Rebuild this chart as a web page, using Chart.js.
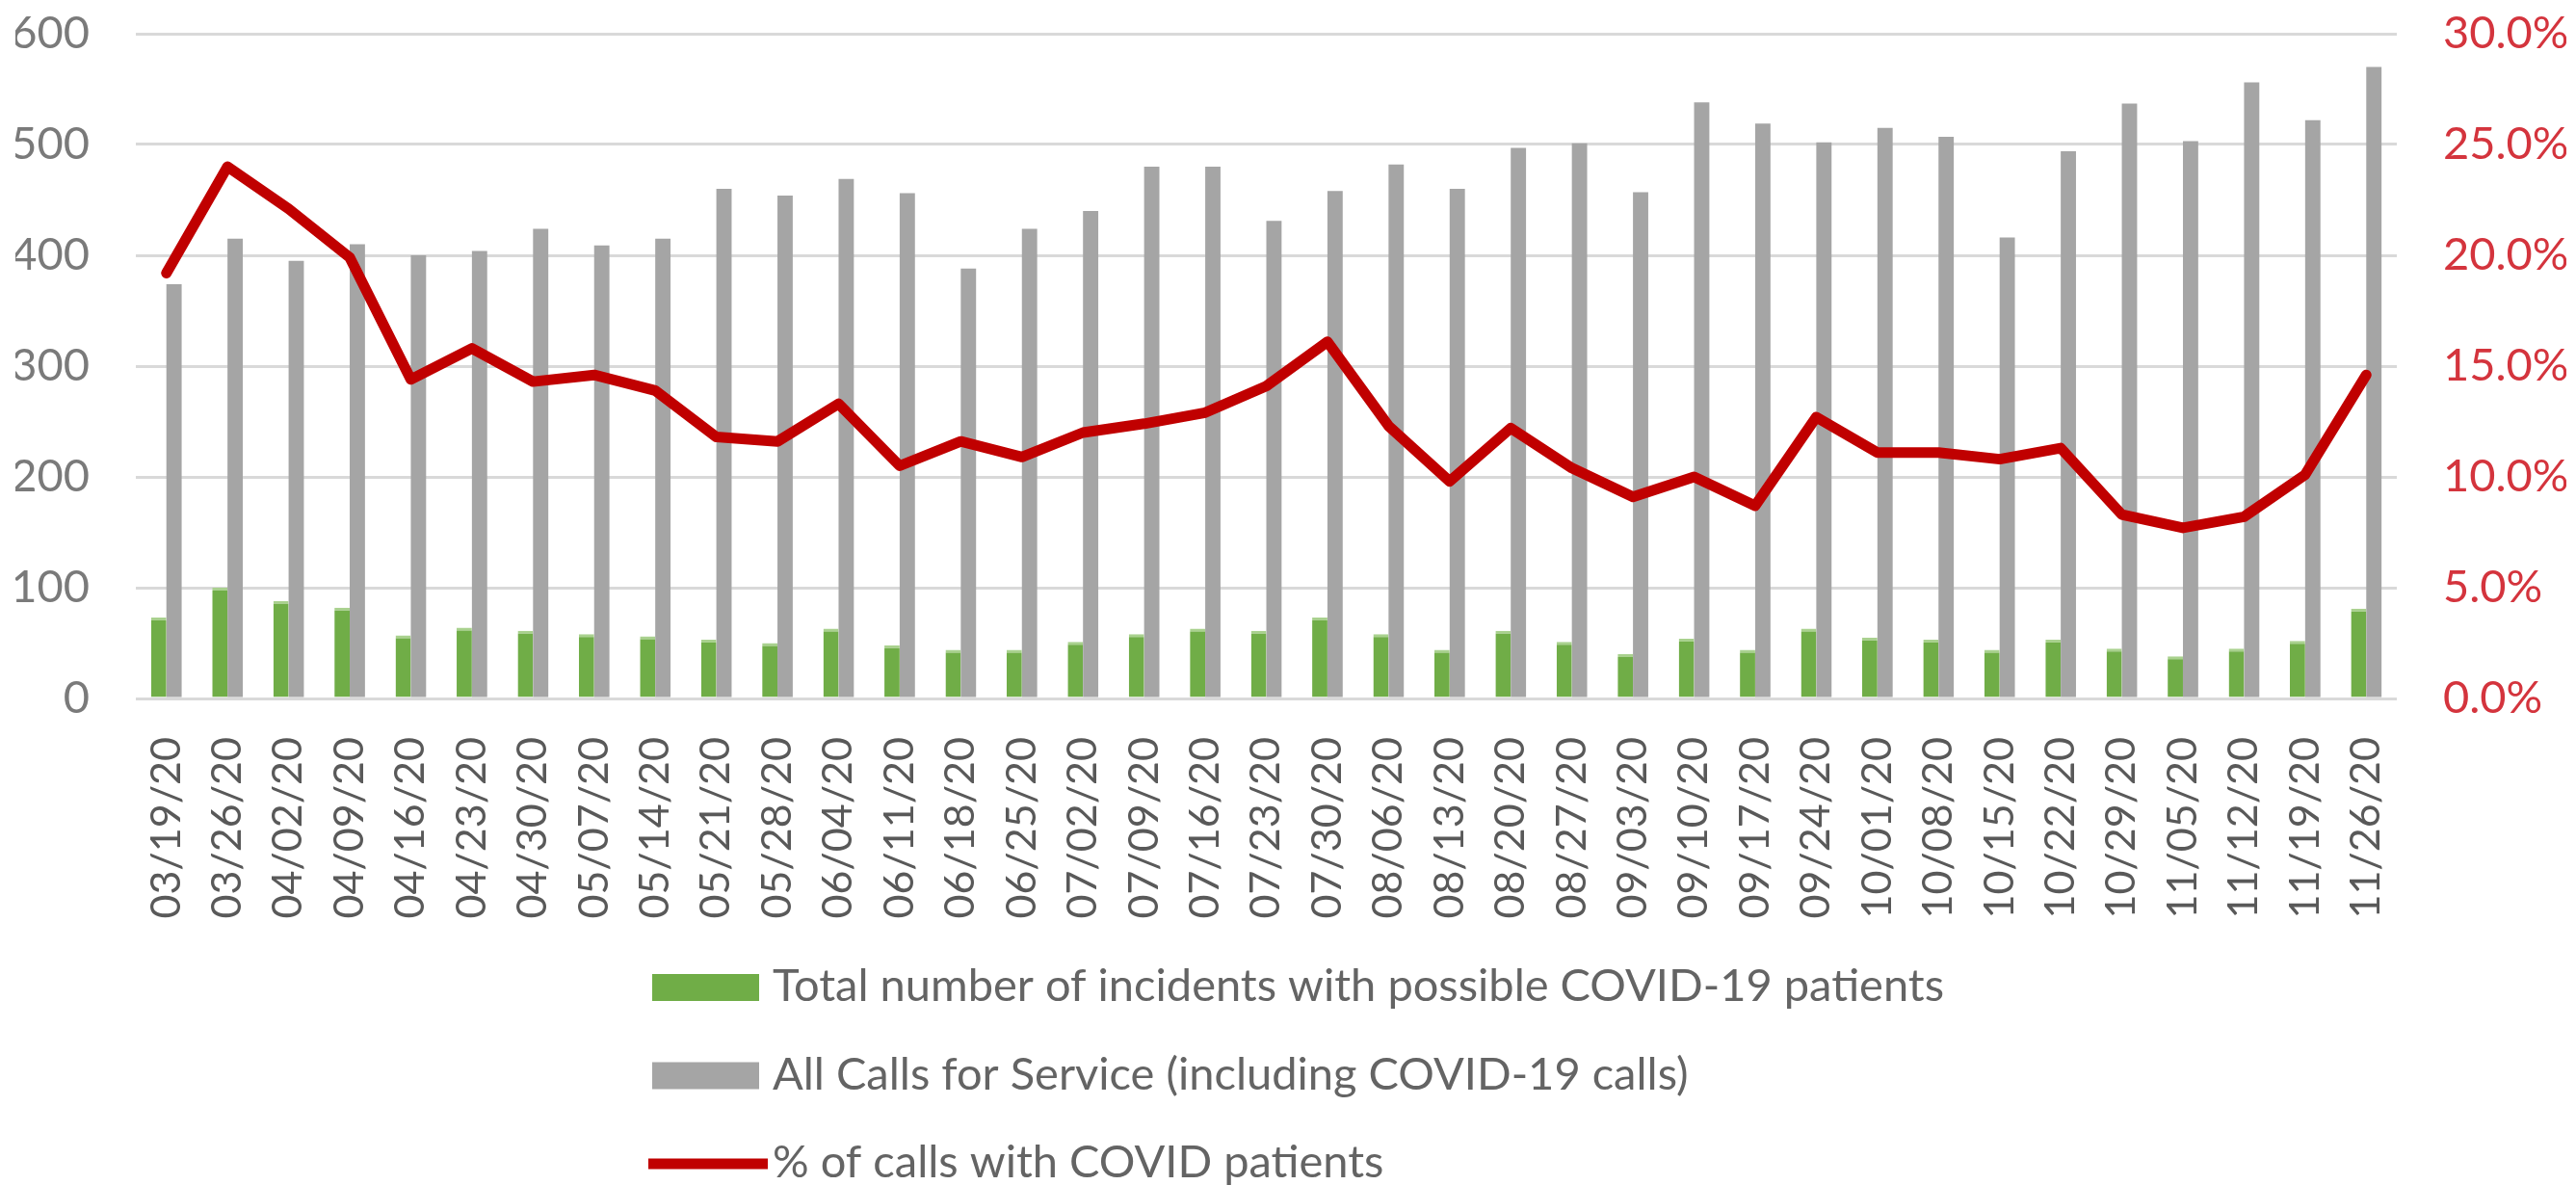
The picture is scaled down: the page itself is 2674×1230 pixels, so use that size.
<!DOCTYPE html>
<html>
<head>
<meta charset="utf-8">
<script src="https://cdn.jsdelivr.net/npm/chart.js@4.4.1/dist/chart.umd.min.js"></script>
<style>
  html, body { margin: 0; padding: 0; background: #ffffff; }
  #wrap { width: 2674px; height: 1230px; position: relative; }
</style>
</head>
<body>
<div id="wrap"><canvas id="myChart"></canvas></div>
<script>
// weekly dates on the x axis
const weeks = ['03/19/20', '03/26/20', '04/02/20', '04/09/20', '04/16/20', '04/23/20', '04/30/20',
  '05/07/20', '05/14/20', '05/21/20', '05/28/20', '06/04/20', '06/11/20', '06/18/20', '06/25/20',
  '07/02/20', '07/09/20', '07/16/20', '07/23/20', '07/30/20', '08/06/20', '08/13/20', '08/20/20',
  '08/27/20', '09/03/20', '09/10/20', '09/17/20', '09/24/20', '10/01/20', '10/08/20', '10/15/20',
  '10/22/20', '10/29/20', '11/05/20', '11/12/20', '11/19/20', '11/26/20']

const covidIncidents = [73, 100, 88, 82, 57, 64, 61, 58, 56, 53, 50, 63, 48, 44, 44, 51, 58, 63, 61,
  73, 58, 44, 61, 51, 40, 54, 44, 63, 55, 53, 44, 53, 45, 38, 45, 52, 81]

const allCalls = [374, 415, 395, 410, 400, 404, 424, 409, 415, 460, 454, 469, 456, 388, 424, 440, 480,
  480, 431, 458, 482, 460, 497, 501, 457, 538, 519, 502, 515, 507, 416, 494, 537, 503, 556, 522, 570]

const pctCovid = [19.2, 24.0, 22.1, 19.9, 14.4, 15.8, 14.3, 14.6, 13.9, 11.8, 11.6, 13.3, 10.5, 11.6,
  10.9, 12.0, 12.4, 12.9, 14.1, 16.1, 12.3, 9.8, 12.2, 10.4, 9.1, 10.0, 8.7, 12.7, 11.1, 11.1, 10.8,
  11.3, 8.3, 7.7, 8.2, 10.1, 14.6]

const countTicks = [0, 100, 200, 300, 400, 500, 600]
const pctTicks = [0, 5, 10, 15, 20, 25, 30]

const labelFont = { family: 'Lato', size: 47 }

// legend stacked in rows under the axis, like the Excel one
const rowLegend = {
  id: 'rowLegend',
  afterDraw: (chart, args, opts) => {
    const { ctx } = chart
    ctx.save()
    ctx.font = '47px Lato'
    ctx.textBaseline = 'alphabetic'
    chart.data.datasets.forEach((ds, i) => {
      const y = opts.top + i * opts.gap
      if (ds.type === 'line') {
        ctx.strokeStyle = ds.borderColor
        ctx.lineWidth = 11
        ctx.beginPath()
        ctx.moveTo(opts.left - 4, y)
        ctx.lineTo(opts.left + 120, y)
        ctx.stroke()
      } else {
        ctx.fillStyle = ds.backgroundColor
        ctx.fillRect(opts.left, y - 14, 111, 28)
      }
      ctx.fillStyle = '#646464'
      ctx.fillText(ds.label, opts.textLeft, y + 14)
    })
    ctx.restore()
  }
}

const data = {
  labels: weeks,
  datasets: [{
    type: 'bar',
    label: 'Total number of incidents with possible COVID-19 patients',
    data: covidIncidents,
    backgroundColor: '#70ad47',
    borderColor: '#a9d18e',
    borderWidth: { top: 3, left: 0, right: 0, bottom: 0 },
    borderSkipped: false,
    yAxisID: 'y',
    order: 1
  },
  {
    type: 'bar',
    label: 'All Calls for Service (including COVID-19 calls)',
    data: allCalls,
    backgroundColor: '#a5a5a5',
    yAxisID: 'y',
    order: 1
  },
  {
    type: 'line',
    label: '% of calls with COVID patients',
    data: pctCovid,
    borderColor: '#c00000',
    backgroundColor: '#c00000',
    borderWidth: 11,
    borderJoinStyle: 'round',
    borderCapStyle: 'round',
    pointRadius: 0,
    tension: 0,
    fill: false,
    yAxisID: 'y1',
    order: 0
  }]
}

const config = {
  type: 'bar',
  data: data,
  plugins: [rowLegend],
  options: {
    responsive: true,
    maintainAspectRatio: false,
    animation: false,
    datasets: {
      bar: { categoryPercentage: 0.5, barPercentage: 1.0 }
    },
    layout: {
      padding: { left: 16, right: 10, top: 35, bottom: 265 }
    },
    scales: {
      x: {
        grid: { display: false },
        border: { display: false },
        ticks: {
          autoSkip: false,
          minRotation: 90,
          maxRotation: 90,
          padding: 32,
          color: '#595959',
          font: { family: 'Lato', size: 43 }
        },
        afterFit: (scale) => { scale.height = 240 }
      },
      y: {
        position: 'left',
        min: 0,
        max: 600,
        afterBuildTicks: (scale) => { scale.ticks = countTicks.map(v => ({ value: v })) },
        // invisible tick marks push the labels away from the plot
        grid: { color: '#d9d9d9', lineWidth: 3, drawTicks: true, tickLength: 48, tickColor: 'rgba(0,0,0,0)' },
        border: { display: false },
        ticks: { padding: 0, color: '#7a7a7a', font: labelFont },
        afterFit: (scale) => { scale.width = 125 }
      },
      y1: {
        position: 'right',
        min: 0,
        max: 30,
        afterBuildTicks: (scale) => { scale.ticks = pctTicks.map(v => ({ value: v })) },
        grid: { drawOnChartArea: false, drawTicks: true, tickLength: 48, tickColor: 'rgba(0,0,0,0)' },
        border: { display: false },
        ticks: {
          padding: 0,
          color: '#d4343d',
          font: labelFont,
          callback: (value) => value.toFixed(1) + '%'
        },
        afterFit: (scale) => { scale.width = 176 }
      }
    },
    plugins: {
      legend: { display: false },
      tooltip: { enabled: false },
      rowLegend: { left: 677, textLeft: 802, top: 1025, gap: 91.5 }
    }
  }
}

const myChart = new Chart(document.querySelector('#myChart'), config)
</script>
</body>
</html>
